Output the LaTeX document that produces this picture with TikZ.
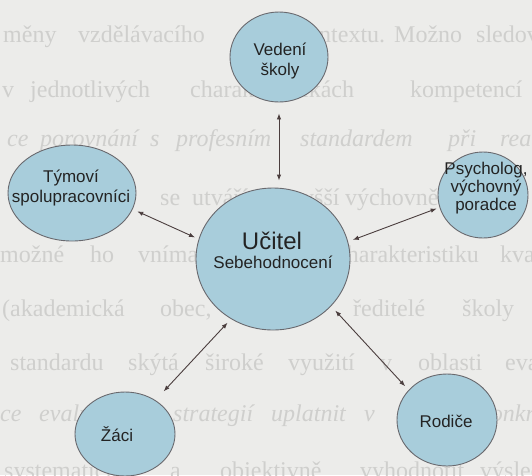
\documentclass[tikz,border=0pt]{standalone}
\usepackage{fontspec}
\newfontfamily\labelfont{Liberation Sans}
\newfontfamily\pagefont{Liberation Serif}
\usetikzlibrary{shapes.geometric,arrows.meta}
\definecolor{paper}{RGB}{236,236,234}
\definecolor{pageink}{RGB}{207,207,205}
\definecolor{bubblefill}{RGB}{168,205,219}
\definecolor{bubbleedge}{RGB}{105,105,110}
\definecolor{labelink}{RGB}{35,35,35}
\definecolor{linkink}{RGB}{75,62,62}
\begin{document}
\begin{tikzpicture}[x=1pt,y=-1pt,
  pageword/.style={font=\pagefont\fontsize{24}{26}\selectfont, text=pageink, inner sep=0pt, anchor=base west},
  pageital/.style={pageword, font=\pagefont\itshape\fontsize{24}{26}\selectfont},
  bubble/.style={ellipse, draw=bubbleedge, fill=bubblefill, line width=0.9pt, inner sep=0pt},
  lbl/.style={font=\labelfont\fontsize{17}{20}\selectfont, text=labelink, align=center, inner sep=0pt},
  link/.style={{Latex[length=6pt,width=4.5pt]}-{Latex[length=6pt,width=4.5pt]}, draw=linkink, line width=0.9pt}]
\useasboundingbox (0,0) rectangle (532,475);
\clip (0,0) rectangle (532,475);
\fill[paper] (0,0) rectangle (532,475);

% running text of the page behind the figure
\node[pageword] (w11) at (3,42) {měny};
\node[pageword] (w12) at (78,42) {vzdělávacího};
\node[pageword] (w13) at (295,42) {kontextu.};
\node[pageword] (w14) at (394,42) {Možno};
\node[pageword] (w15) at (476,42) {sledovat};

\node[pageword] (w21) at (2,97) {v};
\node[pageword] (w22) at (30,97) {jednotlivých};
\node[pageword] (w23) at (190,97) {charakteristikách};
\node[pageword] (w24) at (410,97) {kompetencí};

\node[pageital] (w31) at (7,146) {ce};
\node[pageital] (w32) at (40,146) {porovnání};
\node[pageital] (w33) at (150,146) {s};
\node[pageital] (w34) at (176,146) {profesním};
\node[pageital] (w35) at (300,146) {standardem};
\node[pageital] (w36) at (448,146) {při};
\node[pageital] (w37) at (500,146) {realizaci};

\node[pageword] (w41) at (160,205) {se};
\node[pageword] (w42) at (192,205) {utváří};
\node[pageword] (w43) at (290,205) {vyšší};
\node[pageword] (w44) at (345,205) {výchovně};

\node[pageword] (w51) at (0,262) {možné};
\node[pageword] (w52) at (90,262) {ho};
\node[pageword] (w53) at (138,262) {vnímat};
\node[pageword] (w54) at (336,262) {charakteristiku};
\node[pageword] (w55) at (500,262) {kvality};

\node[pageword] (w61) at (2,316) {(akademická};
\node[pageword] (w62) at (160,316) {obec,};
\node[pageword] (w63) at (353,316) {ředitelé};
\node[pageword] (w64) at (462,316) {školy};

\node[pageword] (w71) at (10,370) {standardu};
\node[pageword] (w72) at (128,370) {skýtá};
\node[pageword] (w73) at (205,370) {široké};
\node[pageword] (w74) at (288,370) {využití};
\node[pageword] (w75) at (380,370) {v};
\node[pageword] (w76) at (418,370) {oblasti};
\node[pageword] (w77) at (505,370) {evaluace};

\node[pageital] (w81) at (0,421) {ce};
\node[pageital] (w82) at (39,421) {evaluačních};
\node[pageital] (w83) at (173,421) {strategií};
\node[pageital] (w84) at (271,421) {uplatnit};
\node[pageital] (w85) at (364,421) {v};
\node[pageital] (w86) at (480,421) {konkrétních};

\node[pageword] (w91) at (4,478) {systematicky};
\node[pageword] (w92) at (170,478) {a};
\node[pageword] (w93) at (220,478) {objektivně};
\node[pageword] (w94) at (360,478) {vyhodnotit};
\node[pageword] (w95) at (480,478) {výsledky};

% participants
\node[bubble, minimum width=98pt, minimum height=90pt] (ved) at (279,57) {};
\node[bubble, minimum width=128pt, minimum height=96pt] (tym) at (72,193) {};
\node[bubble, minimum width=90pt, minimum height=86pt] (psy) at (483,195) {};
\node[bubble, minimum width=154pt, minimum height=142pt] (uc) at (273,259) {};
\node[bubble, minimum width=100pt, minimum height=84pt] (zac) at (125,434) {};
\node[bubble, minimum width=100pt, minimum height=92pt] (rod) at (447,420) {};

% labels
\node[lbl] (vedT) at (280,61) {Vedení\\školy};
\node[lbl] (tymT) at (71,188) {Týmoví\\spolupracovníci};
\node[lbl, font=\labelfont\fontsize{17}{18}\selectfont] (psyT) at (486,188) {Psycholog,\\výchovný\\poradce};
\node[lbl, anchor=base, font=\labelfont\fontsize{24}{26}\selectfont] (ucT) at (272,249) {Učitel};
\node[lbl, anchor=base] (ucS) at (273,268) {Sebehodnocení};
\node[lbl, anchor=base] (zacT) at (117,441) {Žáci};
\node[lbl, anchor=base] (rodT) at (446,427) {Rodiče};

% two-way links
\draw[link, shorten <=11pt, shorten >=7pt] (ved.south) -- (ved.south |- uc.north);
\draw[link, shorten <=5pt, shorten >=4pt] (tym.-15) -- (uc.165);
\draw[link, shorten <=5pt, shorten >=3pt] (uc.13) -- (psy.196);
\draw[link, shorten <=5pt, shorten >=12pt] (uc.235) -- (zac.48);
\draw[link, shorten <=6pt, shorten >=5pt] (uc.-39) -- (rod.142);
\end{tikzpicture}
\end{document}
